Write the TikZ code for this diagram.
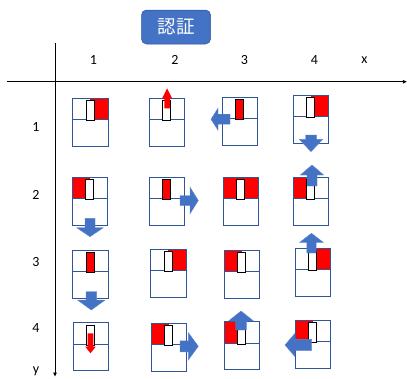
\documentclass[tikz,border=0pt]{standalone}
\usepackage{fontspec}
\setmainfont{Carlito}
\newfontfamily\cjk{Noto Sans CJK JP}
\usetikzlibrary{arrows.meta,calc}
\definecolor{boxblue}{HTML}{4472C4}
\definecolor{boxedge}{HTML}{2F528F}
\definecolor{gridblue}{HTML}{2F5597}
\tikzset{
  cellline/.style={draw=gridblue, line width=0.75pt},
  redpart/.style ={fill=red},
  slot/.style    ={draw=black, line width=0.8pt},
  moveb/.style   ={fill=boxblue, draw=boxblue!85!white, line width=0.4pt},
  mover/.style   ={fill=red},
  axis/.style    ={line width=0.9pt, -{Triangle[length=4pt, width=3.5pt]}},
  lbl/.style     ={font=\fontsize{14}{16}\selectfont, inner sep=0pt},
  title/.style   ={rectangle, rounded corners=5pt, fill=boxblue, draw=boxedge,
                   line width=0.5pt, text=white, minimum width=69pt,
                   minimum height=34pt, font=\cjk\fontsize{18.5}{18.5}\selectfont},
  pics/barrow/.style args={#1/#2/#3/#4/#5}{code={
    \path[#1] (0,-#3) -- (#2-#5,-#3) -- (#2-#5,-#4) -- (#2,0)
      -- (#2-#5,#4) -- (#2-#5,#3) -- (0,#3) -- cycle;}},
}
\begin{document}
\begin{tikzpicture}[x=1pt, y=-1pt]
  \useasboundingbox (0,0) rectangle (407,378);

  \node[title] (auth) at (176,27) {認証};

  % axes
  \coordinate (xfrom) at (7,81.7);
  \coordinate (xto) at (406.8,81.7);
  \coordinate (yfrom) at (55,43.3);
  \coordinate (yto) at (55,376.5);
  \draw[axis] (xfrom) -- (xto);
  \draw[axis] (yfrom) -- (yto);

  \foreach \i/\x in {1/93.3,2/175,3/244.3,4/314.3}{\node[lbl] (col\i) at (\x,60) {\i};}
  \node[lbl] (xlab) at (364.3,60) {x};
  \foreach \i/\y in {1/126.7,2/195,3/261.7,4/328.3}{\node[lbl] (row\i) at (36,\y) {\i};}
  \node[lbl, anchor=base] (ylab) at (36,373.5) {y};

  % cells: name / left / top / red start / red width / slot fill
  \foreach \n/\cx/\cy/\ra/\rw/\sf in {
      11/72.7/98.3/17.5/18/white,  21/149.3/98.3/0/0/white,
      31/222.3/97.3/0/0/red,       41/293.3/95/17.5/18/white,
      12/72.3/177.3/0/17.5/white,  22/149.3/177.3/0/0/red,
      32/223.3/177.3/0/35.5/white, 42/293.3/177.3/0/17.5/white,
      13/72.7/250/0/0/red,         23/150.7/249.3/17.5/18/white,
      33/224.3/250/0/17.5/white,   43/295.3/248.3/17.5/18/white,
      14/73.3/322.7/0/0/white,     24/151/323.3/0/17.5/white,
      34/224.3/321.7/0/17.5/white, 44/295.3/320/0/17.5/white}{
    \coordinate (c\n) at (\cx,\cy);
    \fill[redpart] (c\n) ++(\ra,0) rectangle ++(\rw,21.5);
    \draw[cellline] (c\n) rectangle ++(35.5,48);
    \draw[cellline] (c\n) ++(0,21.5) -- ++(35.5,0);
    \draw[slot, fill=\sf] (c\n) ++(13.5,2.5) rectangle ++(8,20);
  }

  % moves
  \pic[rotate=90]  at ($(c21)+(17.8,10)$)   {barrow=mover/20/2.8/5/10};
  \pic[rotate=180] at ($(c31)+(7.7,21.9)$)  {barrow=moveb/19/5/11/7};
  \pic[rotate=-90] at ($(c41)+(17.7,40)$)   {barrow=moveb/16.7/5.5/11.7/12.4};
  \pic[rotate=-90] at ($(c12)+(17.7,41)$)   {barrow=moveb/18.4/5/13.3/9};
  \pic             at ($(c22)+(30.7,23.2)$) {barrow=moveb/18.3/5/13.3/8.3};
  \pic[rotate=90]  at ($(c42)+(18.7,8.7)$)  {barrow=moveb/21/5/11.7/10};
  \pic[rotate=-90] at ($(c13)+(18.6,41.7)$) {barrow=moveb/18.3/5.3/13.8/10};
  \pic[rotate=90]  at ($(c43)+(16.2,4.7)$)  {barrow=moveb/19.7/4.7/11.7/9};
  \pic[rotate=-90] at ($(c14)+(17.2,10.6)$) {barrow=mover/20/2.8/5.3/6.7};
  \pic             at ($(c24)+(29,23)$)     {barrow=moveb/18.3/5.5/13.7/10};
  \pic[rotate=90]  at ($(c34)+(16.7,8.3)$)  {barrow=moveb/19/5.3/12.5/10};
  \pic[rotate=180] at ($(c44)+(16.4,25)$)   {barrow=moveb/26.7/5.7/11.7/10};
\end{tikzpicture}
\end{document}
